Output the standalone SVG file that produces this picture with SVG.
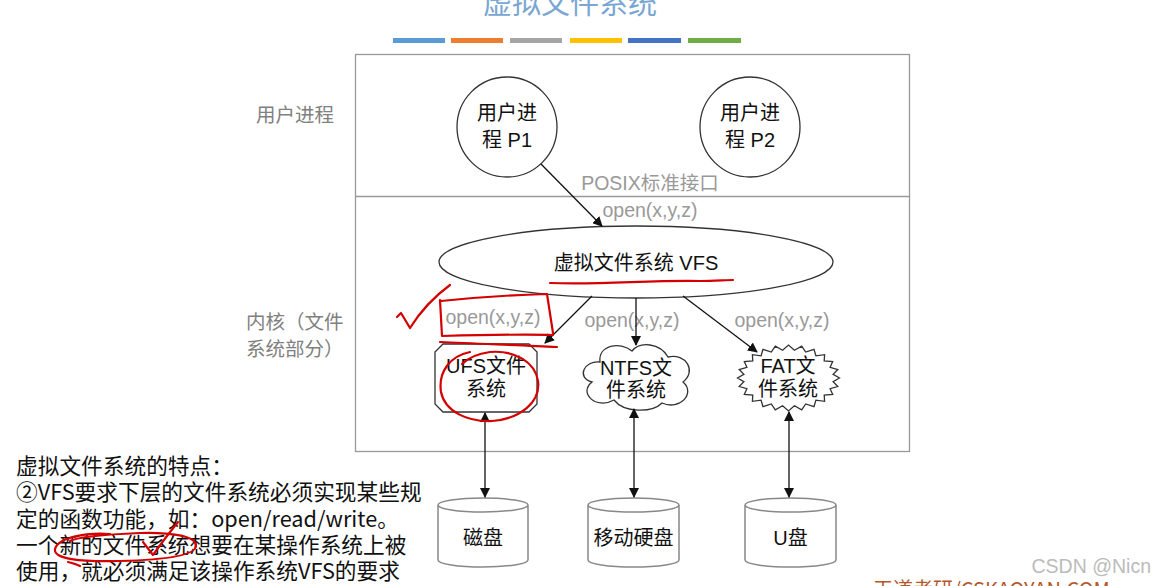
<svg xmlns="http://www.w3.org/2000/svg" width="1156" height="586" viewBox="0 0 1156 586">
<defs>
<style>
.lbl{font-family:"Liberation Sans","Noto Sans CJK SC",sans-serif;font-size:20px;fill:#111;text-anchor:middle}
.gray{font-family:"Liberation Sans","Noto Sans CJK SC",sans-serif;font-size:19.5px;fill:#808080}
.op{font-family:"Liberation Sans","Noto Sans CJK SC",sans-serif;font-size:19.5px;fill:#999;text-anchor:middle}
.note{font-family:"Noto Sans CJK SC",sans-serif;font-size:21.7px;fill:#111}
.shape{fill:#fff;stroke:#333;stroke-width:1.3}
.cyl{fill:#fff;stroke:#888;stroke-width:1.5}
.conn{stroke:#111;stroke-width:1.3;fill:none}
.red{stroke:#d40000;stroke-width:2.2;fill:none;stroke-linecap:round;stroke-linejoin:round}
</style>
<marker id="ah" viewBox="0 0 10 10" refX="9" refY="5" markerWidth="10" markerHeight="10" markerUnits="userSpaceOnUse" orient="auto-start-reverse">
<path d="M0,0 L10,5 L0,10 z" fill="#111"/>
</marker>
</defs>
<rect width="1156" height="586" fill="#fff"/>

<text x="570" y="14" font-family="Noto Sans CJK SC,sans-serif" font-size="29" fill="#79a6d2" text-anchor="middle">虚拟文件系统</text>
<g id="bars">
<rect x="393" y="38" width="52" height="5" fill="#5b9bd5"/>
<rect x="451" y="38" width="52" height="5" fill="#ed7d31"/>
<rect x="510" y="38" width="52" height="5" fill="#a5a5a5"/>
<rect x="570" y="38" width="52" height="5" fill="#ffc000"/>
<rect x="628" y="38" width="53" height="5" fill="#4472c4"/>
<rect x="688" y="38" width="53" height="5" fill="#70ad47"/>
</g>

<g id="frame">
<rect x="355.5" y="54.5" width="554" height="397" fill="none" stroke="#999" stroke-width="1.3"/>
<line x1="355.5" y1="196.5" x2="909.5" y2="196.5" stroke="#999" stroke-width="1.3"/>
</g>

<text class="gray" x="256" y="122">用户进程</text>
<text class="gray" x="246" y="329">内核（文件</text>
<text class="gray" x="246" y="356">系统部分）</text>

<g id="p1">
<circle cx="507" cy="127" r="50" class="shape"/>
<text class="lbl" x="507" y="120">用户进</text>
<text class="lbl" x="507" y="147">程 P1</text>
</g>
<g id="p2">
<circle cx="750" cy="127" r="50" class="shape"/>
<text class="lbl" x="750" y="120">用户进</text>
<text class="lbl" x="750" y="147">程 P2</text>
</g>

<text class="op" x="650" y="190" font-size="20">POSIX标准接口</text>
<text class="op" x="650" y="217">open(x,y,z)</text>

<g id="vfs">
<ellipse cx="636" cy="262" rx="197" ry="36" class="shape"/>
<text class="lbl" x="636" y="270" font-size="19.5">虚拟文件系统 VFS</text>
</g>

<text class="op" x="493" y="324">open(x,y,z)</text>
<text class="op" x="632" y="327">open(x,y,z)</text>
<text class="op" x="782" y="327">open(x,y,z)</text>

<g id="ufs">
<polygon points="443,344 529,344 537,352 537,404 529,412 443,412 435,404 435,352" class="shape"/>
<text class="lbl" x="486" y="373">UFS文件</text>
<text class="lbl" x="486" y="396">系统</text>
</g>
<g id="ntfs">
<path class="shape" d="M600,362 C584,360 576,378 592,382 C578,393 596,410 614,400 C624,413 652,413 662,403 C680,411 696,393 683,382 C697,371 686,353 668,357 C660,343 640,341 632,351 C620,341 598,345 600,362 Z"/>
<text class="lbl" x="636" y="375">NTFS文</text>
<text class="lbl" x="636" y="397">件系统</text>
</g>
<g id="fat">
<polygon class="shape" points="839.5,378 833.1,381.7 837.8,386.5 830.1,388.7 832.7,394.5 824.2,395 824.6,401.3 815.9,400.2 814,406.6 805.7,403.9 801.7,409.9 794.4,405.8 788.5,411 782.6,405.8 775.3,409.9 771.3,403.9 763,406.6 761.1,400.2 752.4,401.3 752.8,395 744.3,394.5 746.9,388.7 739.2,386.5 743.9,381.7 737.5,378 743.9,374.3 739.2,369.5 746.9,367.3 744.3,361.5 752.8,361 752.4,354.7 761.1,355.8 763,349.4 771.3,352.1 775.3,346.1 782.6,350.2 788.5,345 794.4,350.2 801.7,346.1 805.7,352.1 814,349.4 815.9,355.8 824.6,354.7 824.2,361 832.7,361.5 830.1,367.3 837.8,369.5 833.1,374.3"/>
<text class="lbl" x="788" y="373">FAT文</text>
<text class="lbl" x="788" y="396">件系统</text>
</g>

<g id="disk1">
<path class="cyl" d="M438,505 A45,7 0 0,1 528,505 L528,560 A45,7 0 0,1 438,560 Z M438,505 A45,7 0 0,0 528,505"/>
<text class="lbl" x="483" y="545">磁盘</text>
</g>
<g id="disk2">
<path class="cyl" d="M588,505 A45.5,7 0 0,1 679,505 L679,560 A45.5,7 0 0,1 588,560 Z M588,505 A45.5,7 0 0,0 679,505"/>
<text class="lbl" x="633.5" y="545">移动硬盘</text>
</g>
<g id="disk3">
<path class="cyl" d="M745,505 A45.5,7 0 0,1 836,505 L836,560 A45.5,7 0 0,1 745,560 Z M745,505 A45.5,7 0 0,0 836,505"/>
<text class="lbl" x="790.5" y="545">U盘</text>
</g>

<g id="connectors">
<line class="conn" x1="541" y1="164" x2="602" y2="226" marker-end="url(#ah)"/>
<line class="conn" x1="592" y1="296" x2="545" y2="343" marker-end="url(#ah)"/>
<line class="conn" x1="636" y1="298" x2="636" y2="345" marker-end="url(#ah)"/>
<line class="conn" x1="683" y1="296" x2="757" y2="352" marker-end="url(#ah)"/>
<line class="conn" x1="485" y1="413" x2="485" y2="497" marker-start="url(#ah)" marker-end="url(#ah)"/>
<line class="conn" x1="634" y1="409" x2="634" y2="497" marker-start="url(#ah)" marker-end="url(#ah)"/>
<line class="conn" x1="789" y1="412" x2="789" y2="497" marker-start="url(#ah)" marker-end="url(#ah)"/>
</g>

<g id="notes">
<text class="note" x="16" y="474">虚拟文件系统的特点：</text>
<text class="note" x="16" y="500">②VFS要求下层的文件系统必须实现某些规</text>
<text class="note" x="16" y="527">定的函数功能，如：open/read/write。</text>
<text class="note" x="16" y="553">一个新的文件系统想要在某操作系统上被</text>
<text class="note" x="16" y="579">使用，就必须满足该操作系统VFS的要求</text>
</g>

<text x="1151" y="573" font-family="Liberation Sans,sans-serif" font-size="19.5" fill="#bbb" text-anchor="end">CSDN @Nicn</text>
<text x="873" y="597" font-family="Noto Sans CJK SC,sans-serif" font-size="20" fill="#b5572a">王道考研/CSKAOYAN.COM</text>

<g id="annotations">
<path class="red" d="M397,317 L401,313 L410,328 C420,312 435,296 450,285"/>
<path class="red" d="M441,301 C470,298 510,295 547,294 L553,333 M440,300 L442,336 C480,335 520,334 553,335 M440,342 C480,344 520,345 557,347"/>
<path class="red" d="M470,352 C450,356 438,372 441,392 C445,412 468,422 492,421 C520,419 541,402 538,381 C535,362 515,350 490,352 C475,354 466,360 462,364"/>
<path class="red" d="M550,283 C600,285 650,280 700,281 C715,281 725,280 733,280"/>
<path class="red" d="M110,534 C85,532 58,538 55,549 C53,559 80,562 120,561 C160,560 195,556 196,546 C197,536 170,532 140,533 C115,534 80,536 70,541"/>
<path class="red" d="M68,562 C72,563 76,564 80,566"/>
<path class="red" d="M143,542 L153,555 C160,545 170,532 178,522"/>
</g>
</svg>
